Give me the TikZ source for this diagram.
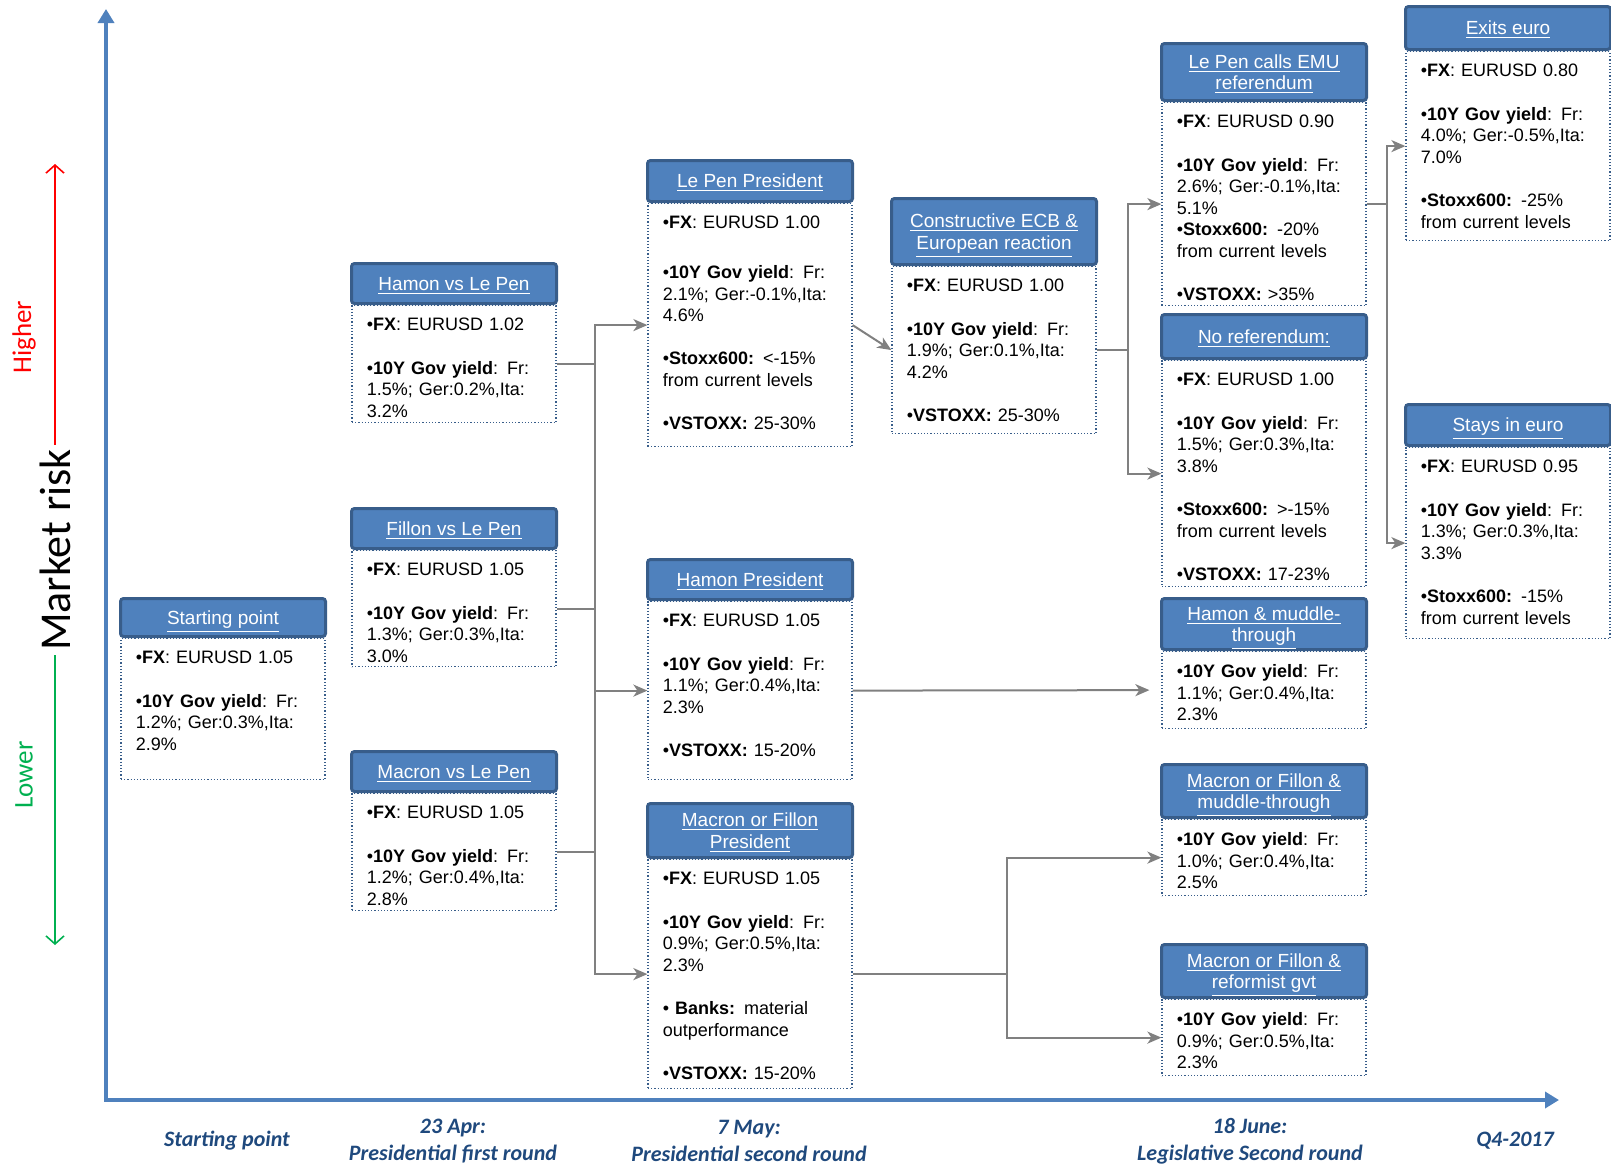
\documentclass[tikz,border=0pt]{standalone}
\usepackage{fontspec}
\setmainfont{Liberation Sans}
\newfontfamily\calib{Carlito}
\usepackage{xcolor}
\usepackage{tikz}
\usetikzlibrary{positioning,calc,arrows.meta}
\definecolor{SBlue}{HTML}{4F81BD}
\definecolor{SEdge}{HTML}{385D8A}
\definecolor{SNavy}{HTML}{1F497D}
\definecolor{SGray}{HTML}{808080}
\definecolor{SRed}{HTML}{FF0000}
\definecolor{SGreen}{HTML}{00B050}
\newcommand{\hu}[1]{\raisebox{0pt}[\height][0pt]{\underline{#1}}}

\begin{document}
\begin{tikzpicture}[x=0.5pt,y=-0.5pt,
  every node/.style={align=left},
  head/.style={draw=SEdge, fill=SBlue, line width=1.5pt, rounded corners=1.5pt,
    minimum width=102.5pt, anchor=south west, text=white, align=center, inner sep=1pt,
    font=\fontsize{9.5}{10.8}\selectfont},
  body/.style={draw=SEdge, densely dotted, line width=0.6pt, minimum width=102pt,
    anchor=north, inner sep=0pt},
  txt/.style={anchor=north west, text width=95pt, inner xsep=7.5pt, inner ysep=6.5pt,
    font=\fontsize{9}{10.8}\selectfont},
  link/.style={draw=SGray, line width=1pt},
  arr/.style={link, -{Stealth[length=7pt,width=6pt,inset=2pt]}},
  axis/.style={draw=SBlue, line width=2.2pt},
  tl/.style={font=\calib\bfseries\itshape\fontsize{11}{13.5}\selectfont, text=SNavy, align=center}
]
  \useasboundingbox (0,0) rectangle (1611,1168);

  % axes
  \coordinate (o) at (106,1100);
  \coordinate (ytop) at (106,9);
  \coordinate (xend) at (1559,1100);
  \draw[axis, {Triangle[length=7pt,width=8pt]}-{Triangle[length=7pt,width=8pt]}] (ytop) -- (o) -- (xend);

  % market risk scale
  \node[font=\calib\fontsize{22}{22}\selectfont, rotate=90, inner sep=2pt] (mr) at (55,550) {Market risk};
  \node[font=\calib\fontsize{13.5}{13.5}\selectfont, text=SRed, rotate=90] (hi) at (24,337) {Higher};
  \node[font=\calib\fontsize{13.5}{13.5}\selectfont, text=SGreen, rotate=90] (lo) at (24,775) {Lower};
  \coordinate (hitop) at (55,164);
  \coordinate (lobot) at (55,945);
  \draw[SRed, line width=0.8pt, -{Straight Barb[length=4pt,width=9pt]}] (mr.east) -- (hitop);
  \draw[SGreen, line width=0.8pt, -{Straight Barb[length=4pt,width=9pt]}] (mr.west) -- (lobot);

  % time line
  \node[tl] (t0) at (227,1141) {Starting point};
  \node[tl] (t1) at (453,1141) {23 Apr:\\Presidential first round};
  \node[tl] (t2) at (749,1141) {7 May:\\Presidential second round};
  \node[tl] (t3) at (1250,1141) {18 June:\\Legislative Second round};
  \node[tl] (t4) at (1515,1141) {Q4-2017};

  % Starting point
  \node[head, minimum height=19pt] (sph) at (119,638) {\hu{Starting point}};
  \node[body, minimum height=70.5pt] (sp) at (sph.south) {};
  \node[txt] at (sp.north west) {•\textbf{FX}: EURUSD 1.05\\[\baselineskip]•\textbf{10Y Gov yield}: Fr:\\1.2\%; Ger:0.3\%,Ita:\\2.9\%};

  % first round
  \node[head, minimum height=20pt] (hlph) at (350,305) {\hu{Hamon vs Le Pen}};
  \node[body, minimum height=58.5pt] (hlp) at (hlph.south) {};
  \node[txt] at (hlp.north west) {•\textbf{FX}: EURUSD 1.02\\[\baselineskip]•\textbf{10Y Gov yield}: Fr:\\1.5\%; Ger:0.2\%,Ita:\\3.2\%};

  \node[head, minimum height=20pt] (flph) at (350,550) {\hu{Fillon vs Le Pen}};
  \node[body, minimum height=58pt] (flp) at (flph.south) {};
  \node[txt] at (flp.north west) {•\textbf{FX}: EURUSD 1.05\\[\baselineskip]•\textbf{10Y Gov yield}: Fr:\\1.3\%; Ger:0.3\%,Ita:\\3.0\%};

  \node[head, minimum height=20pt] (mlph) at (350,793) {\hu{Macron vs Le Pen}};
  \node[body, minimum height=58.5pt] (mlp) at (mlph.south) {};
  \node[txt] at (mlp.north west) {•\textbf{FX}: EURUSD 1.05\\[\baselineskip]•\textbf{10Y Gov yield}: Fr:\\1.2\%; Ger:0.4\%,Ita:\\2.8\%};

  % second round
  \node[head, minimum height=20.5pt] (lpph) at (646,203) {\hu{Le Pen President}};
  \node[body, minimum height=121.5pt] (lpp) at (lpph.south) {};
  \node[txt] at (lpp.north west) {•\textbf{FX}: EURUSD 1.00\\[14pt]•\textbf{10Y Gov yield}: Fr:\\2.1\%; Ger:-0.1\%,Ita:\\4.6\%\\[\baselineskip]•\textbf{Stoxx600:} <-15\%\\from current levels\\[\baselineskip]•\textbf{VSTOXX:} 25-30\%};

  \node[head, minimum height=20pt] (hph) at (646,601) {\hu{Hamon President}};
  \node[body, minimum height=89pt] (hp) at (hph.south) {};
  \node[txt] at (hp.north west) {•\textbf{FX}: EURUSD 1.05\\[\baselineskip]•\textbf{10Y Gov yield}: Fr:\\1.1\%; Ger:0.4\%,Ita:\\2.3\%\\[\baselineskip]•\textbf{VSTOXX:} 15-20\%};

  \node[head, minimum height=27pt] (mfph) at (646,859) {\hu{Macron or Fillon}\\\hu{President}};
  \node[body, minimum height=114.5pt] (mfp) at (mfph.south) {};
  \node[txt] at (mfp.north west) {•\textbf{FX}: EURUSD 1.05\\[\baselineskip]•\textbf{10Y Gov yield}: Fr:\\0.9\%; Ger:0.5\%,Ita:\\2.3\%\\[\baselineskip]• \textbf{Banks:} material\\outperformance\\[\baselineskip]•\textbf{VSTOXX:} 15-20\%};

  % reaction
  \node[head, minimum height=33pt] (ecbh) at (890,266) {\hu{Constructive ECB \&}\\\hu{European reaction}};
  \node[body, minimum height=83.5pt] (ecb) at (ecbh.south) {};
  \node[txt] at (ecb.north west) {•\textbf{FX}: EURUSD 1.00\\[\baselineskip]•\textbf{10Y Gov yield}: Fr:\\1.9\%; Ger:0.1\%,Ita:\\4.2\%\\[\baselineskip]•\textbf{VSTOXX:} 25-30\%};

  % legislative round
  \node[head, minimum height=28.5pt] (emuh) at (1160,102) {\hu{Le Pen calls EMU}\\\hu{referendum}};
  \node[body, minimum height=101.5pt] (emu) at (emuh.south) {};
  \node[txt] at (emu.north west) {•\textbf{FX}: EURUSD 0.90\\[\baselineskip]•\textbf{10Y Gov yield}: Fr:\\2.6\%; Ger:-0.1\%,Ita:\\5.1\%\\•\textbf{Stoxx600:} -20\%\\from current levels\\[\baselineskip]•\textbf{VSTOXX:} >35\%};

  \node[head, minimum height=22pt] (norh) at (1160,360) {\hu{No referendum:}};
  \node[body, minimum height=113pt] (nor) at (norh.south) {};
  \node[txt] at (nor.north west) {•\textbf{FX}: EURUSD 1.00\\[\baselineskip]•\textbf{10Y Gov yield}: Fr:\\1.5\%; Ger:0.3\%,Ita:\\3.8\%\\[\baselineskip]•\textbf{Stoxx600:} >-15\%\\from current levels\\[\baselineskip]•\textbf{VSTOXX:} 17-23\%};

  \node[head, minimum height=25.5pt] (hmth) at (1160,651) {\hu{Hamon \& muddle-}\\\hu{through}};
  \node[body, minimum height=38.5pt] (hmt) at (hmth.south) {};
  \node[txt] at (hmt.north west) {•\textbf{10Y Gov yield}: Fr:\\1.1\%; Ger:0.4\%,Ita:\\2.3\%};

  \node[head, minimum height=26.5pt] (mmth) at (1160,819) {\hu{Macron or Fillon \&}\\\hu{muddle-through}};
  \node[body, minimum height=38pt] (mmt) at (mmth.south) {};
  \node[txt] at (mmt.north west) {•\textbf{10Y Gov yield}: Fr:\\1.0\%; Ger:0.4\%,Ita:\\2.5\%};

  \node[head, minimum height=26.5pt] (mrgh) at (1160,999) {\hu{Macron or Fillon \&}\\\hu{reformist gvt}};
  \node[body, minimum height=38pt] (mrg) at (mrgh.south) {};
  \node[txt] at (mrg.north west) {•\textbf{10Y Gov yield}: Fr:\\0.9\%; Ger:0.5\%,Ita:\\2.3\%};

  % Q4-2017
  \node[head, minimum height=21.5pt] (exeh) at (1404,51) {\hu{Exits euro}};
  \node[body, minimum height=94.5pt] (exe) at (exeh.south) {};
  \node[txt] at (exe.north west) {•\textbf{FX}: EURUSD 0.80\\[\baselineskip]•\textbf{10Y Gov yield}: Fr:\\4.0\%; Ger:-0.5\%,Ita:\\7.0\%\\[\baselineskip]•\textbf{Stoxx600:} -25\%\\from current levels};

  \node[head, minimum height=20.5pt] (sieh) at (1404,447) {\hu{Stays in euro}};
  \node[body, minimum height=95.5pt] (sie) at (sieh.south) {};
  \node[txt] at (sie.north west) {•\textbf{FX}: EURUSD 0.95\\[\baselineskip]•\textbf{10Y Gov yield}: Fr:\\1.3\%; Ger:0.3\%,Ita:\\3.3\%\\[\baselineskip]•\textbf{Stoxx600:} -15\%\\from current levels};

  % connectors
  \coordinate (j1) at (595,0);
  \coordinate (j2) at (1128,0);
  \coordinate (j3) at (1387,0);
  \coordinate (j4) at (1007,0);

  \draw[link] (hlp.east) -- (hlp.east -| j1) -- (mlp.east -| j1) -- (mlp.east);
  \draw[link] (flp.east) -- (flp.east -| j1);
  \draw[arr] (hlp.east -| j1) |- (lpp.west);
  \draw[arr] (hp.west -| j1) -- (hp.west);
  \draw[arr] (mlp.east -| j1) |- (mfp.west);

  \draw[arr] (lpp.east) -- (ecb.west);
  \draw[link] (ecb.east) -- (ecb.east -| j2);
  \draw[arr] (ecb.east -| j2) |- (emu.west);
  \draw[arr] (ecb.east -| j2) |- (nor.west);

  \draw[link] (emu.east) -- (emu.east -| j3);
  \draw[arr] (emu.east -| j3) |- (exe.west);
  \draw[arr] (emu.east -| j3) |- (sie.west);

  \draw[arr, shorten >=6pt] (hp.east) -- (hmt.west);
  \draw[link] (mfp.east) -- (mfp.east -| j4);
  \draw[arr] (mfp.east -| j4) |- (mmt.west);
  \draw[arr] (mfp.east -| j4) |- (mrg.west);
\end{tikzpicture}
\end{document}
